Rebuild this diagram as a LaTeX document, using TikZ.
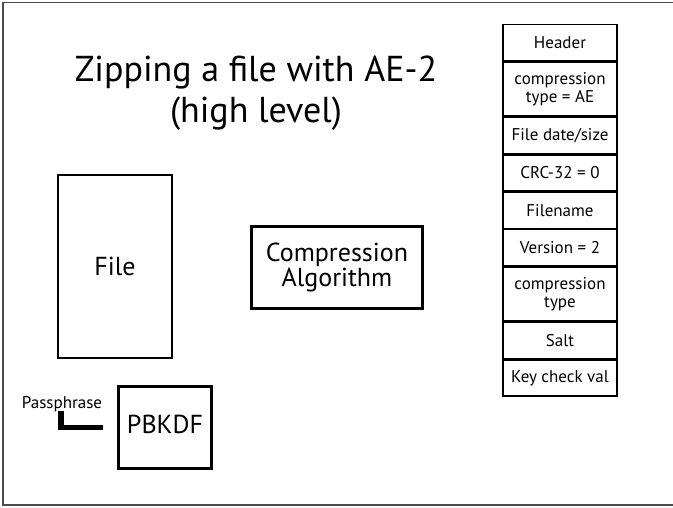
\documentclass[tikz,border=0pt]{standalone}
\usepackage{fontspec}
\setmainfont{PT Sans}
\begin{document}
\begin{tikzpicture}[x=1pt,y=-1pt,
  thinbox/.style={draw=black,line width=1.4pt,align=center,inner sep=0pt},
  thickbox/.style={draw=black,line width=3.5pt,align=center,inner sep=0pt},
  bigtext/.style={font=\fontsize{26}{25}\selectfont},
  cell/.style={draw=black,line width=1.4pt,minimum width=114pt,align=center,
    inner sep=0pt,font=\fontsize{17}{18}\selectfont,anchor=north},
  onerow/.style={cell,minimum height=36pt},
  tworow/.style={cell,minimum height=54pt},
  feed/.style={line width=5.5pt}]
\useasboundingbox (0,0) rectangle (673,508);
% slide frame (its right side runs off the page)
\draw[draw=black!70,line width=1.8pt] (3,2.5) rectangle (676,505);

% title
\node[anchor=base,font=\fontsize{36}{40}\selectfont] (title) at (256,82)
  {Zipping a file with AE-2};
\node[anchor=base,font=\fontsize{36}{40}\selectfont] (subtitle) at (256,123)
  {(high level)};

% input file
\node[thinbox,minimum width=114pt,minimum height=183pt,bigtext]
  (file) at (115,266.5) {File};

% compression stage
\node[thickbox,minimum width=171pt,minimum height=82pt,bigtext]
  (comp) at (337,267.5) {Compression\\Algorithm};

% key derivation
\node[thickbox,minimum width=93pt,minimum height=82pt] (kdf) at (165,427.5) {};
\node[bigtext] (kdflabel) at ([yshift=3pt]kdf.center) {PBKDF};
\node[anchor=base,font=\fontsize{17}{18}\selectfont] (pass) at (62,408)
  {Passphrase};
\coordinate (passdrop) at ([yshift=4pt]pass.south -| 61,0);
\coordinate (kdfin) at ([xshift=-14pt]kdf.west);
\draw[feed] (passdrop) |- (kdfin);

% local file header layout
\node[onerow] (r1) at (560,24) {Header};
\node[tworow] (r2) at (r1.south) {compression\\type = AE};
\node[onerow] (r3) at (r2.south) {File date/size};
\node[onerow] (r4) at (r3.south) {CRC-32 = 0};
\node[onerow] (r5) at (r4.south) {Filename};
\node[onerow] (r6) at (r5.south) {Version = 2};
\node[tworow] (r7) at (r6.south) {compression\\type};
\node[onerow] (r8) at (r7.south) {Salt};
\node[onerow] (r9) at (r8.south) {Key check val};
\end{tikzpicture}
\end{document}
